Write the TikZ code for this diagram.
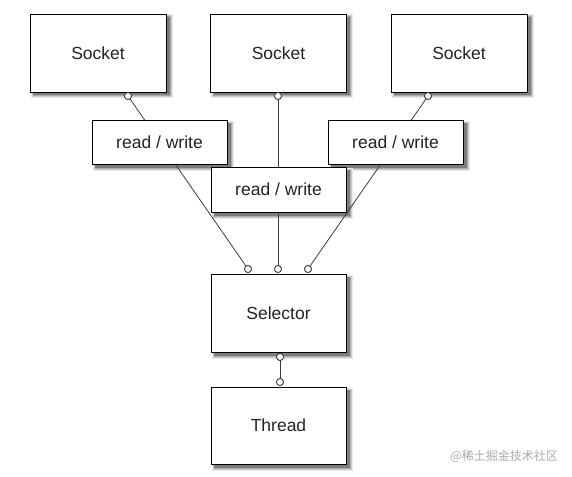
\documentclass[tikz,border=0pt]{standalone}
\usepackage{fontspec}
\setmainfont{Liberation Sans}
\newfontfamily\cjk{Noto Sans CJK SC}
\definecolor{shadowA}{RGB}{232,232,232}
\definecolor{shadowB}{RGB}{205,205,205}
\definecolor{shadowC}{RGB}{170,170,170}
\definecolor{shadowD}{RGB}{125,125,125}
\definecolor{wirecol}{RGB}{60,60,60}
\definecolor{textcol}{RGB}{35,35,35}
\definecolor{markcol}{RGB}{170,170,170}
% #1,#2 = top-left corner, #3,#4 = bottom-right corner (y grows downwards)
\newcommand\shadowrect[4]{%
  \fill[shadowA] ({#1+0.5},{#2+0.5}) rectangle ({#3+6.5},{#4+6.5});
  \fill[shadowB] ({#1+1.5},{#2+1.5}) rectangle ({#3+5.5},{#4+5.5});
  \fill[shadowC] ({#1+2.5},{#2+2.5}) rectangle ({#3+4.5},{#4+4.5});
  \fill[shadowD] ({#1+3},{#2+3}) rectangle ({#3+3.5},{#4+3.5});}
\begin{document}
\begin{tikzpicture}[x=1pt,y=-1pt,
  box/.style={draw=black, line width=0.9pt, fill=white, inner sep=0pt,
    font=\fontsize{17.5}{20}\selectfont, text=textcol},
  bigbox/.style={box, minimum width=136pt, minimum height=78pt},
  rwbox/.style={box, minimum width=135pt, minimum height=44pt},
  port/.style={circle, draw=wirecol, fill=white, line width=0.8pt, minimum size=7pt, inner sep=0pt},
  wire/.style={draw=wirecol, line width=0.8pt}]
\useasboundingbox (0,0) rectangle (572,476);
\fill[white] (0,0) rectangle (572,476);
% shadows (all below the wires)
\shadowrect{30}{14}{166}{92}
\shadowrect{210.5}{14}{346.5}{92}
\shadowrect{391}{14}{527}{92}
\shadowrect{92}{120}{227}{164}
\shadowrect{328}{120}{463}{164}
\shadowrect{211}{167}{346}{212}
\shadowrect{211}{274}{346}{352}
\shadowrect{211}{387}{346}{464}
% ports
\node[port] (c1) at (128,96) {};
\node[port] (c2) at (278,96) {};
\node[port] (c3) at (428,96) {};
\node[port] (d1) at (248,269) {};
\node[port] (d2) at (278,269) {};
\node[port] (d3) at (308,269) {};
\node[port] (e1) at (280,357) {};
\node[port] (e2) at (280,382) {};
% wires (behind the read/write boxes)
\draw[wire] (c1) -- (d1);
\draw[wire] (c2) -- (d2);
\draw[wire] (c3) -- (d3);
\draw[wire] (e1) -- (e2);
% boxes
\node[bigbox] (s1) at (98,53) {Socket};
\node[bigbox] (s2) at (278.5,53) {Socket};
\node[bigbox] (s3) at (459,53) {Socket};
\node[rwbox] (rw1) at (159.5,142) {read / write};
\node[rwbox] (rw3) at (395.5,142) {read / write};
\node[rwbox, minimum height=45pt] (rw2) at (278.5,189.5) {read / write};
\node[bigbox, minimum width=135pt] (sel) at (278.5,313) {Selector};
\node[bigbox, minimum width=135pt, minimum height=77pt] (thr) at (278.5,425.5) {Thread};
% ports drawn again on top of box edges
\node[port] at (c1) {};
\node[port] at (c2) {};
\node[port] at (c3) {};
\node[port] at (d1) {};
\node[port] at (d2) {};
\node[port] at (d3) {};
\node[port] at (e1) {};
\node[port] at (e2) {};
% watermark
\node[anchor=east, text=markcol, font=\cjk\fontsize{12}{14}\selectfont, inner sep=0pt] (wm) at (558,456) {@稀土掘金技术社区};
\end{tikzpicture}
\end{document}
